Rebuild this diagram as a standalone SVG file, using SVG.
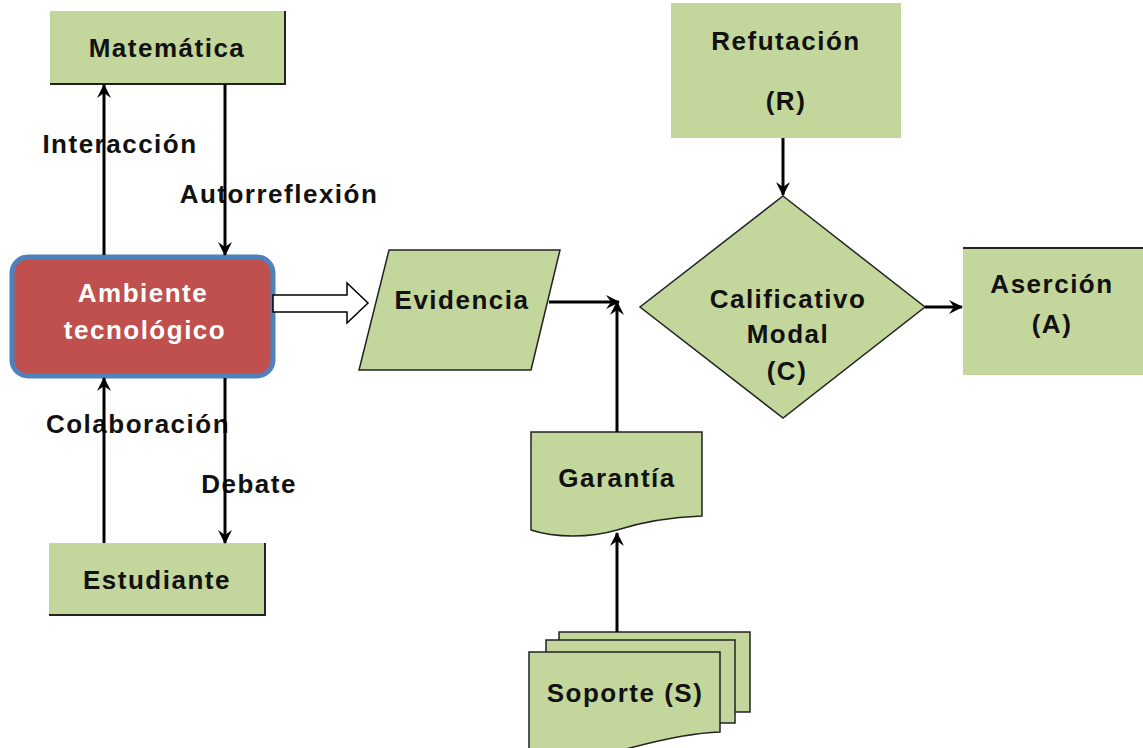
<svg xmlns="http://www.w3.org/2000/svg" width="1143" height="748" viewBox="0 0 1143 748">
<style>
.t{font-family:"Liberation Sans",Arial,sans-serif;font-weight:bold;font-size:26px;letter-spacing:1.5px;fill:#111;text-anchor:middle}
.w{fill:#fff}
.g{fill:#C3D69B}
.gs{fill:#C3D69B;stroke:#222;stroke-width:1.5}
.c{stroke:#000;stroke-width:3;fill:none;marker-end:url(#ah)}
.edge{stroke:#222;stroke-width:2;fill:none}
</style>
<defs>
<marker id="ah" viewBox="0 0 14 14" refX="13" refY="7" markerWidth="14" markerHeight="14" markerUnits="userSpaceOnUse" orient="auto">
<path d="M0,0 L14,7 L0,14 L5,7 z" fill="#000"/>
</marker>
</defs>
<rect width="1143" height="748" fill="#fff"/>

<g id="labels">
<text class="t" x="120" y="153">Interacción</text>
<text class="t" x="279" y="203">Autorreflexión</text>
<text class="t" x="138" y="433">Colaboración</text>
<text class="t" x="249" y="493">Debate</text>
</g>

<g id="matematica">
<rect class="g" x="50" y="11" width="235" height="73"/>
<path class="edge" d="M285,11 V84 H50"/>
<text class="t" x="167" y="57">Matemática</text>
</g>

<g id="ambiente">
<rect x="12" y="257" width="261" height="119" rx="16" fill="#C0504D" stroke="#4F81BD" stroke-width="5"/>
<text class="t w" x="143" y="302">Ambiente</text>
<text class="t w" x="145" y="339">tecnológico</text>
</g>

<g id="estudiante">
<rect class="g" x="49" y="543" width="216" height="72"/>
<path class="edge" d="M265,543 V615 H49"/>
<text class="t" x="157" y="589">Estudiante</text>
</g>

<g id="evidencia">
<polygon class="gs" points="389,250 560,250 531,370 359,370"/>
<text class="t" x="462" y="309">Evidencia</text>
</g>

<g id="garantia">
<path class="gs" d="M531,432 H702 V516 C675,517 645,521 617,530 C590,538 555,538 531,530 Z"/>
<text class="t" x="617" y="487">Garantía</text>
</g>

<g id="soporte">
<rect class="gs" x="559" y="632" width="191" height="80"/>
<rect class="gs" x="546" y="640" width="189" height="83"/>
<path class="gs" d="M529,652 H720 V732 C690,733 660,740 630,748 L600,756 L529,760 Z"/>
<text class="t" x="625" y="702">Soporte (S)</text>
</g>

<g id="refutacion">
<rect class="g" x="671" y="3" width="230" height="135"/>
<text class="t" x="786" y="50">Refutación</text>
<text class="t" x="786" y="110">(R)</text>
</g>

<g id="calificativo">
<polygon class="gs" points="783,196 925,307 783,418 640,307"/>
<text class="t" x="788" y="308">Calificativo</text>
<text class="t" x="788" y="343">Modal</text>
<text class="t" x="787" y="380">(C)</text>
</g>

<g id="asercion">
<rect class="g" x="963" y="248" width="190" height="127"/>
<line x1="963" y1="248" x2="1143" y2="248" stroke="#222" stroke-width="2"/>
<text class="t" x="1052" y="293">Aserción</text>
<text class="t" x="1052" y="333">(A)</text>
</g>

<g id="connectors">
<line class="c" x1="104" y1="255" x2="104" y2="85"/>
<line class="c" x1="225" y1="84" x2="225" y2="255"/>
<line class="c" x1="104" y1="543" x2="104" y2="378"/>
<line class="c" x1="225" y1="378" x2="225" y2="543"/>
<polygon points="273,295 347,295 347,283 368,303 347,323 347,312 273,312" fill="#fff" stroke="#000" stroke-width="1.5"/>
<line class="c" x1="549" y1="302" x2="619" y2="302"/>
<line class="c" x1="617" y1="432" x2="617" y2="302"/>
<line class="c" x1="617" y1="632" x2="617" y2="533"/>
<line class="c" x1="783" y1="138" x2="783" y2="195"/>
<line class="c" x1="925" y1="307" x2="962" y2="307"/>
</g>
</svg>
